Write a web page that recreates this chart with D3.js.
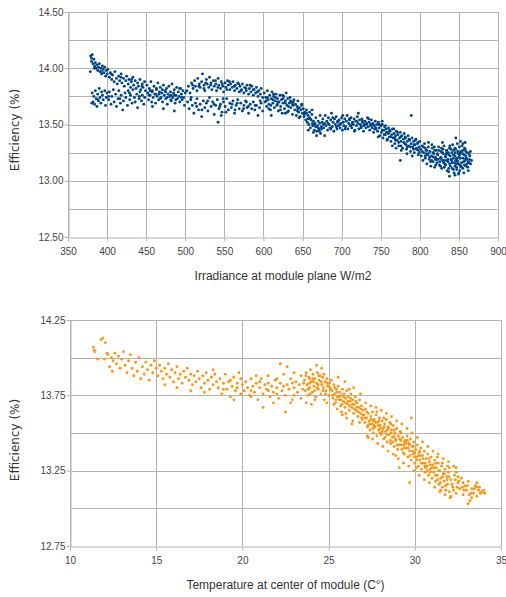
<!DOCTYPE html>
<html>
<head>
<meta charset="utf-8">
<script src="https://cdn.jsdelivr.net/npm/d3@7"></script>
<style>
  body { margin: 0; background: #fff; }
  svg { display: block; }
</style>
</head>
<body>
<div id="plot"></div>
<script>
// irradiance (W/m2) vs efficiency (%)
const irradiancePoints = [
  [379,14.11],[380,14.09],[381,14.12],[380,14.06],[382,14.04],[383,14.08],[384,14.02],[385,14.05],[386,14.00],[387,14.03],[388,13.98],[389,14.01],[390,14.04],[391,13.97],[392,14.00],[393,13.95],[394,14.02],[395,13.99],[396,13.96],[397,14.01],[398,13.93],[399,13.98],[400,13.95],
  [381,13.78],[382,13.70],[383,13.75],[384,13.68],[385,13.80],[386,13.73],[387,13.66],[388,13.77],[389,13.71],[390,13.82],[391,13.74],[392,13.69],[393,13.79],[394,13.76],[395,13.72],[397,13.80],[398,13.67],[399,13.74],[400,13.78],
  [401,13.99],[403,13.92],[404,13.96],[406,13.90],[407,13.94],[409,13.88],[410,13.97],[412,13.91],[413,13.86],[415,13.93],[416,13.89],[418,13.95],[419,13.87],[421,13.91],[422,13.84],[424,13.89],[425,13.93],[427,13.86],[428,13.90],[430,13.83],[431,13.88],[433,13.92],[434,13.85],[436,13.89],[437,13.82],[439,13.87],[440,13.84],[442,13.90],[443,13.81],[445,13.86],[446,13.83],[448,13.88],[449,13.80],
  [402,13.72],[403,13.79],[405,13.68],[406,13.75],[408,13.81],[409,13.70],[411,13.77],[412,13.66],[414,13.73],[415,13.80],[417,13.69],[418,13.76],[420,13.63],[421,13.71],[423,13.78],[424,13.74],[426,13.67],[427,13.80],[429,13.72],[430,13.76],[432,13.69],[433,13.81],[435,13.74],[436,13.70],[438,13.77],[439,13.65],[441,13.73],[442,13.79],[444,13.71],[445,13.76],[447,13.68],[448,13.74],
  [451,13.85],[452,13.78],[453,13.72],[454,13.82],[455,13.76],[456,13.88],[457,13.70],[458,13.80],[459,13.74],[460,13.84],[461,13.77],[462,13.69],[463,13.81],[464,13.75],[465,13.87],[466,13.72],[467,13.79],[468,13.83],[469,13.74],[470,13.78],[471,13.70],[472,13.85],[473,13.76],[474,13.80],[475,13.73],[476,13.82],[477,13.68],[478,13.77],[479,13.84],[480,13.75],[481,13.79],[482,13.71],[483,13.86],[484,13.74],[485,13.78],[486,13.81],[487,13.69],[488,13.76],[489,13.83],[490,13.73],[491,13.79],[492,13.75],[493,13.70],[494,13.82],[495,13.77],[496,13.72],[497,13.80],[498,13.74],[499,13.67],[500,13.78],
  [455,13.80],[462,13.77],[468,13.73],[475,13.79],[482,13.76],[488,13.72],[495,13.74],[458,13.66],[472,13.64],[486,13.62],
  [502,13.80],[504,13.84],[506,13.78],[508,13.87],[510,13.82],[512,13.89],[513,13.84],[515,13.80],[516,13.91],[518,13.86],[519,13.83],[521,13.88],[522,13.95],[524,13.85],[525,13.80],[527,13.90],[528,13.86],[530,13.83],[531,13.92],[533,13.87],[534,13.81],[536,13.89],[537,13.84],[539,13.86],[540,13.80],[542,13.91],[543,13.85],[545,13.82],[546,13.88],[548,13.84],[549,13.79],[551,13.87],[552,13.83],[554,13.89],[555,13.85],[557,13.81],[558,13.86],[560,13.83],[561,13.88],[563,13.80],[564,13.85],[566,13.82],[567,13.87],[569,13.79],[570,13.84],[572,13.81],[573,13.86],[575,13.78],[576,13.83],[578,13.80],[579,13.85],[581,13.77],[582,13.82],[584,13.79],[585,13.84],[587,13.76],[588,13.81],[590,13.78],[591,13.83],[593,13.75],[594,13.80],[596,13.77],[597,13.82],[599,13.74],
  [503,13.70],[505,13.64],[507,13.72],[509,13.67],[511,13.60],[513,13.69],[515,13.73],[517,13.63],[519,13.68],[521,13.57],[523,13.71],[525,13.65],[527,13.69],[529,13.62],[531,13.74],[533,13.66],[535,13.70],[537,13.59],[539,13.67],[541,13.72],[543,13.64],[545,13.68],[547,13.61],[549,13.70],[551,13.66],[553,13.73],[555,13.63],[557,13.69],[559,13.65],[561,13.71],[563,13.60],[565,13.67],[567,13.72],[569,13.64],[571,13.69],[573,13.62],[575,13.67],[577,13.71],[579,13.65],[581,13.60],[583,13.68],[585,13.64],[587,13.70],[589,13.63],[591,13.67],[593,13.58],[595,13.65],[597,13.69],[599,13.62],[542,13.52],[546,13.58],
  [601,13.78],[602,13.70],[603,13.74],[604,13.66],[605,13.80],[606,13.72],[607,13.68],[608,13.76],[609,13.63],[610,13.73],[611,13.79],[612,13.69],[613,13.75],[614,13.65],[615,13.71],[616,13.77],[617,13.67],[618,13.73],[619,13.62],[620,13.70],[621,13.76],[622,13.66],[623,13.72],[624,13.60],[625,13.69],[626,13.75],[627,13.64],[628,13.71],[629,13.78],[630,13.67],[631,13.73],[632,13.62],[633,13.69],[634,13.74],[635,13.65],[636,13.70],[637,13.59],[638,13.67],[639,13.72],[640,13.63],[641,13.68],[642,13.58],[643,13.66],[644,13.71],[645,13.61],[646,13.65],[647,13.57],[648,13.63],[649,13.68],[650,13.60],
  [605,13.74],[612,13.72],[618,13.68],[625,13.73],[632,13.66],[638,13.70],[644,13.64],[610,13.58],[628,13.60],
  [651,13.64],[652,13.57],[653,13.61],[654,13.54],[655,13.60],[656,13.52],[657,13.58],[658,13.50],[659,13.56],[660,13.47],[661,13.54],[662,13.59],[663,13.49],[664,13.53],[665,13.45],[666,13.51],[667,13.56],[668,13.44],[669,13.49],[670,13.53],[671,13.46],[672,13.51],[673,13.42],[674,13.48],[675,13.52],
  [655,13.63],[660,13.55],[665,13.50],[670,13.47],[668,13.40],
  [676,13.55],[677,13.47],[678,13.51],[679,13.58],[680,13.49],[681,13.53],[682,13.45],[683,13.56],[684,13.50],[685,13.47],[686,13.54],[687,13.60],[688,13.48],[689,13.52],[690,13.44],[691,13.55],[692,13.50],[693,13.57],[694,13.46],[695,13.52],[696,13.49],[697,13.54],[698,13.47],[699,13.51],[700,13.56],[701,13.45],[702,13.52],[703,13.49],[704,13.55],[705,13.48],[706,13.53],[707,13.58],[708,13.46],[709,13.51],[710,13.54],[711,13.49],[712,13.56],[713,13.47],[714,13.52],[715,13.50],[716,13.55],[717,13.45],[718,13.53],[719,13.49],[720,13.57],[721,13.51],[722,13.46],[723,13.54],[724,13.50],[725,13.48],[726,13.55],[727,13.52],[728,13.44],[729,13.50],[730,13.53],[731,13.47],[732,13.51],[733,13.56],[734,13.48],[735,13.52],[736,13.45],[737,13.50],[738,13.54],[739,13.47],[740,13.51],[741,13.43],[742,13.49],[743,13.53],[744,13.46],[745,13.50],
  [746,13.44],[747,13.52],[748,13.47],[749,13.40],[750,13.49],[751,13.43],[752,13.50],[753,13.38],[754,13.45],[755,13.48],[756,13.41],[757,13.46],[758,13.36],[759,13.43],[760,13.47],[761,13.39],[762,13.44],[763,13.35],[764,13.41],[765,13.46],[766,13.38],[767,13.42],[768,13.33],[769,13.40],[770,13.44],[771,13.36],[772,13.41],[773,13.31],[774,13.38],[775,13.43],[776,13.35],[777,13.40],[778,13.29],[779,13.37],[780,13.42],[781,13.33],[782,13.38],[783,13.28],[784,13.35],[785,13.40],[786,13.31],[787,13.36],[788,13.26],[789,13.33],[790,13.38],[791,13.30],[792,13.35],[793,13.25],[794,13.32],[795,13.37],[796,13.28],[797,13.33],[798,13.23],[799,13.30],[800,13.35],
  [752,13.45],[760,13.42],[768,13.38],[776,13.31],[784,13.30],[792,13.28],[798,13.27],[775,13.18],[789,13.58],
  [801,13.28],[802,13.22],[803,13.31],[804,13.18],[805,13.25],[806,13.33],[807,13.20],[808,13.27],[809,13.15],[810,13.23],[811,13.30],[812,13.19],[813,13.26],[814,13.13],[815,13.22],[816,13.29],[817,13.17],[818,13.24],[819,13.12],[820,13.21],[821,13.27],[822,13.16],[823,13.23],[824,13.30],[825,13.14],[826,13.20],[827,13.26],[828,13.11],[829,13.18],[830,13.24],[831,13.31],[832,13.15],[833,13.21],[834,13.27],[835,13.09],[836,13.17],[837,13.23],[838,13.29],[839,13.13],[840,13.19],[841,13.25],[842,13.32],[843,13.10],[844,13.16],[845,13.22],[846,13.28],[847,13.12],[848,13.18],[849,13.24],[850,13.07],[851,13.14],[852,13.20],[853,13.26],[854,13.31],[855,13.11],[856,13.17],[857,13.23],[858,13.28],[859,13.13],[860,13.19],[861,13.25],[862,13.09],[863,13.16],[864,13.22],[865,13.15],
  [803,13.26],[807,13.29],[811,13.24],[815,13.18],[819,13.27],[823,13.19],[827,13.21],[831,13.18],[835,13.25],[839,13.22],[843,13.27],[847,13.20],[851,13.23],[855,13.27],[859,13.22],[833,13.14],[837,13.11],[841,13.16],[845,13.13],[849,13.15],[853,13.12],[857,13.14],[845,13.05],[838,13.04],[829,13.34],[848,13.33],[852,13.35],[846,13.38],[858,13.34]
];

// second pass of readings, off the regular grid, filling the dense parts
const irradianceExtra = [
  [812.5,13.21],[836.2,13.19],[848.7,13.26],[820.3,13.14],[857.9,13.18],[843.1,13.23],[829.6,13.28],[861.4,13.12],[816.8,13.25],[851.2,13.09],[838.4,13.31],[825.7,13.17],[846.3,13.15],[833.9,13.24],[855.6,13.20],[809.2,13.27],[862.8,13.24],[841.5,13.11],[827.1,13.20],[818.6,13.30],[853.4,13.16],[844.9,13.29],[831.3,13.12],[858.7,13.26],[822.5,13.24],[836.8,13.08],[849.9,13.21],[813.7,13.17],[860.2,13.15],[840.6,13.18],[826.4,13.13],[854.8,13.24],[834.5,13.27],[847.2,13.10],[819.8,13.19],[863.5,13.19],[832.7,13.22],[842.8,13.20],[850.6,13.30],[828.9,13.25],[856.3,13.07],[838.1,13.15],[815.4,13.32],[845.7,13.18],[852.9,13.13],[824.2,13.27],[859.6,13.20],[836.5,13.25],[848.1,13.17],[830.4,13.16],[843.8,13.07],[857.2,13.29],[821.6,13.19],[839.7,13.28],[851.8,13.25],[834.1,13.18],[861.9,13.17],[845.3,13.25],[827.8,13.29],[817.3,13.21],[808.4,13.24],[804.6,13.30],[806.9,13.22],[811.1,13.34],[855.1,13.33],[849.4,13.06],[866.2,13.18],[864.7,13.26],
  [743.5,13.47],[757.2,13.43],[768.8,13.36],[782.4,13.32],[795.6,13.29],[751.9,13.53],[763.3,13.39],[775.7,13.39],[788.1,13.30],[746.8,13.39],[761.5,13.45],[772.9,13.34],[786.3,13.37],[799.2,13.25],[754.4,13.41],[766.7,13.46],[779.5,13.34],[792.8,13.32],[748.2,13.50],[771.4,13.43],[783.6,13.24],[797.7,13.34],[758.6,13.37],[790.3,13.22],[764.9,13.31],[776.3,13.27],[756.1,13.49],[781.2,13.39],[794.1,13.36],[769.6,13.29],
  [682.4,13.51],[697.8,13.50],[713.6,13.51],[728.3,13.49],[739.9,13.50],[688.7,13.56],[704.5,13.46],[719.2,13.53],[734.6,13.55],[676.8,13.50],[693.3,13.48],[709.7,13.55],[724.8,13.47],[742.2,13.46],[701.4,13.58],[716.5,13.44],[731.7,13.50],[686.2,13.46],[721.3,13.60],[737.6,13.49],[694.9,13.53],[711.8,13.49],[726.6,13.53],
  [643.4,13.62],[656.8,13.55],[648.9,13.67],[662.5,13.51],[671.6,13.44],[652.3,13.59],[666.7,13.48],[659.1,13.61],[645.6,13.56],[674.2,13.46],[663.9,13.43],[662.2,13.63],[672.4,13.58],[678.3,13.40],[657.4,13.45],
  [603.6,13.71],[615.2,13.74],[627.8,13.69],[609.4,13.67],[621.7,13.63],[634.3,13.71],[612.9,13.77],[624.5,13.76],[637.1,13.68],[606.8,13.64],[618.3,13.70],[630.6,13.61],
  [517.5,13.84],[532.4,13.85],[547.3,13.86],[562.8,13.84],[577.6,13.82],[592.2,13.79],[526.1,13.87],[541.7,13.83],[556.4,13.88],[571.3,13.80],[586.9,13.81],[509.3,13.85],[523.8,13.82],[538.6,13.89],[553.2,13.81],[568.5,13.86],[583.1,13.85],
  [514.6,13.66],[528.7,13.71],[544.2,13.66],[559.8,13.68],[574.5,13.64],[589.3,13.67],[521.3,13.63],[536.8,13.68],[551.9,13.61],[566.4,13.69],[580.7,13.66],[595.8,13.71],[507.5,13.74],[548.3,13.73],[563.6,13.63],[578.2,13.70],
  [383.5,14.00],[392.6,13.97],[405.3,13.95],[417.8,13.92],[431.4,13.90],[444.7,13.84],[388.2,13.72],[401.9,13.75],[416.4,13.73],[428.6,13.78],[441.3,13.75],[457.6,13.79],[466.4,13.77],[476.9,13.74],[486.2,13.76],[492.8,13.82],[463.1,13.82],[481.5,13.72],[470.6,13.81],[453.8,13.76],[378.5,13.97],[380.5,13.69]
];

// module temperature (C) vs efficiency (%)
const temperaturePoints = [
  [11.35,14.07],[11.40,14.05],[11.45,14.04],[11.80,14.12],[11.90,14.13],[12.05,14.10],[11.60,13.99],[12.20,14.02],[12.40,14.00],[12.50,13.98],[12.00,13.99],[12.30,13.94],[12.45,13.91],[12.15,14.03],
  [12.6,14.03],[12.7,13.96],[12.8,14.01],[12.9,13.93],[13.0,13.99],[13.1,14.04],[13.2,13.95],[13.3,13.90],[13.4,13.98],[13.5,14.02],[13.6,13.93],[13.7,13.88],[13.8,13.97],[13.9,13.91],[14.0,14.00],[14.1,13.86],[14.2,13.94],[14.3,13.89],[14.4,13.97],[14.5,13.92],[14.6,13.85],[14.7,13.95],[14.8,13.90],[14.9,13.98],[15.0,13.93],
  [15.1,13.88],[15.2,13.95],[15.3,13.91],[15.4,13.86],[15.5,13.93],[15.6,13.89],[15.7,13.96],[15.8,13.87],[15.9,13.92],[16.0,13.84],[16.1,13.90],[16.2,13.94],[16.3,13.86],[16.4,13.89],[16.5,13.83],[16.6,13.91],[16.7,13.87],[16.8,13.93],[16.9,13.85],[17.0,13.89],[17.1,13.82],[17.2,13.88],[17.3,13.84],[17.4,13.91],[17.5,13.86],[17.6,13.80],[17.7,13.88],[17.8,13.83],[17.9,13.90],[18.0,13.85],[18.1,13.79],[18.2,13.87],[18.3,13.82],[18.4,13.89],[18.5,13.84],
  [15.5,13.82],[16.2,13.80],[17.0,13.78],[17.8,13.77],[18.3,13.92],
  [18.6,13.80],[18.7,13.86],[18.8,13.76],[18.9,13.83],[19.0,13.89],[19.1,13.79],[19.2,13.84],[19.3,13.74],[19.4,13.81],[19.5,13.87],[19.6,13.78],[19.7,13.83],[19.8,13.90],[19.9,13.76],[20.0,13.82],[18.9,13.79],[19.3,13.85],[19.7,13.80],[19.9,13.86],[19.5,13.72],
  [20.1,13.78],[20.2,13.84],[20.3,13.80],[20.4,13.75],[20.5,13.86],[20.6,13.81],[20.7,13.77],[20.8,13.83],[20.9,13.72],[21.0,13.80],[21.1,13.86],[21.2,13.76],[21.3,13.82],[21.4,13.79],[21.5,13.88],[21.6,13.74],[21.7,13.81],[21.8,13.77],[21.9,13.85],[22.0,13.80],[22.1,13.73],[22.2,13.83],[22.3,13.78],[22.4,13.89],[22.5,13.75],[22.6,13.82],[22.7,13.79],[22.8,13.86],[22.9,13.72],[23.0,13.80],[23.1,13.84],[23.2,13.77],[23.3,13.82],[23.4,13.88],[23.5,13.79],
  [20.5,13.78],[20.5,13.74],[21.2,13.67],[21.5,13.83],[21.5,13.78],[22.0,13.76],[22.0,13.86],[22.2,13.96],[22.5,13.64],[22.6,13.94],[22.8,13.70],[23.0,13.90],[23.0,13.75],[23.4,13.73],[21.8,13.70],[20.8,13.88],[21.0,13.84],[22.4,13.81],[22.9,13.83],
  [23.6,13.85],[23.65,13.78],[23.7,13.90],[23.75,13.82],[23.8,13.75],[23.85,13.87],[23.9,13.80],[23.95,13.92],[24.0,13.84],[24.05,13.77],[24.1,13.89],[24.15,13.81],[24.2,13.86],[24.25,13.74],[24.3,13.83],[24.35,13.90],[24.4,13.79],[24.45,13.85],[24.5,13.88],[24.55,13.76],[24.6,13.82],[24.65,13.87],[24.7,13.80],[24.75,13.72],[24.8,13.84],[24.85,13.78],[24.9,13.86],[24.95,13.81],[25.0,13.75],[25.05,13.83],[25.1,13.79],[25.15,13.85],[23.7,13.70],[24.0,13.69],[24.3,13.95],[24.6,13.93],[24.2,13.72],[24.9,13.70],[23.9,13.86],[24.4,13.82],
  [25.2,13.78],[25.25,13.73],[25.3,13.82],[25.35,13.76],[25.4,13.70],[25.45,13.79],[25.5,13.74],[25.55,13.81],[25.6,13.72],[25.65,13.77],[25.7,13.68],[25.75,13.75],[25.8,13.79],[25.85,13.71],[25.9,13.76],[25.95,13.67],[26.0,13.73],[26.05,13.78],[26.1,13.69],[26.15,13.74],[26.2,13.65],[26.25,13.71],[26.3,13.76],[26.35,13.67],[26.4,13.72],[26.45,13.63],[26.5,13.69],[26.55,13.74],[26.6,13.65],[26.65,13.70],[26.7,13.61],[26.75,13.67],[26.8,13.72],[26.85,13.63],[26.9,13.68],[26.95,13.59],[27.0,13.65],[25.5,13.66],[26.0,13.63],[26.4,13.58],[25.3,13.69],[26.8,13.57],[25.8,13.62],[26.2,13.79],
  [27.05,13.62],[27.1,13.57],[27.15,13.66],[27.2,13.60],[27.25,13.54],[27.3,13.63],[27.35,13.58],[27.4,13.52],[27.45,13.61],[27.5,13.56],[27.55,13.64],[27.6,13.50],[27.65,13.59],[27.7,13.54],[27.75,13.62],[27.8,13.48],[27.85,13.57],[27.9,13.52],[27.95,13.60],[28.0,13.55],[28.05,13.49],[28.1,13.58],[28.15,13.53],[28.2,13.46],[28.25,13.56],[28.3,13.51],[28.35,13.59],[28.4,13.44],[28.45,13.54],[28.5,13.49],[28.55,13.57],[28.6,13.43],[28.65,13.52],[28.7,13.47],[28.75,13.55],[28.8,13.41],[28.85,13.50],[28.9,13.45],[28.95,13.53],[29.0,13.39],[27.3,13.47],[27.8,13.64],[28.2,13.60],[28.6,13.56],[28.9,13.35],[27.6,13.58],[28.0,13.50],[28.4,13.52],[28.8,13.48],
  [29.05,13.48],[29.1,13.42],[29.15,13.51],[29.2,13.45],[29.25,13.39],[29.3,13.47],[29.35,13.42],[29.4,13.36],[29.45,13.45],[29.5,13.40],[29.55,13.48],[29.6,13.34],[29.65,13.43],[29.7,13.38],[29.75,13.46],[29.8,13.32],[29.85,13.41],[29.9,13.36],[29.95,13.44],[30.0,13.30],[30.05,13.39],[30.1,13.34],[30.15,13.42],[30.2,13.28],[30.25,13.37],[30.3,13.32],[30.35,13.40],[30.4,13.26],[30.45,13.35],[30.5,13.30],[30.55,13.38],[30.6,13.24],[30.65,13.33],[30.7,13.28],[30.75,13.36],[30.8,13.22],[30.85,13.31],[30.9,13.26],[30.95,13.34],[31.0,13.20],[29.8,13.60],[29.7,13.17],[29.1,13.27],[29.4,13.44],[29.7,13.42],[30.0,13.37],[30.3,13.35],[30.6,13.30],[30.9,13.29],[29.2,13.50],[30.1,13.27],
  [31.05,13.29],[31.1,13.24],[31.15,13.32],[31.2,13.18],[31.25,13.27],[31.3,13.22],[31.35,13.30],[31.4,13.16],[31.45,13.25],[31.5,13.20],[31.55,13.28],[31.6,13.14],[31.65,13.23],[31.7,13.18],[31.75,13.26],[31.8,13.12],[31.85,13.21],[31.9,13.16],[31.95,13.24],[32.0,13.11],[32.1,13.19],[32.2,13.14],[32.3,13.22],[32.4,13.10],[32.5,13.17],[32.6,13.13],[32.7,13.20],[32.8,13.09],[32.9,13.15],[33.0,13.12],[33.1,13.18],[33.2,13.05],[33.3,13.13],[33.4,13.10],[33.5,13.15],[33.6,13.08],[33.7,13.12],[33.8,13.10],[33.9,13.11],[34.0,13.12],
  [31.3,13.34],[31.6,13.30],[32.0,13.27],[32.4,13.24],[31.5,13.12],[32.1,13.08],[32.8,13.17],[33.3,13.07],[31.9,13.28],[32.5,13.21],[33.6,13.14],[31.2,13.22],[32.4,13.27],[33.6,13.17],[34.05,13.10],[33.1,13.03]
];

const temperatureExtra = [
  [23.55,13.83],[23.82,13.79],[24.08,13.86],[24.33,13.80],[24.58,13.84],[24.82,13.76],[25.08,13.80],[23.68,13.88],[23.93,13.76],[24.18,13.78],[24.42,13.88],[24.68,13.78],[24.93,13.83],[24.12,13.84],[24.72,13.89],[23.88,13.83],
  [25.22,13.75],[25.48,13.77],[25.72,13.72],[25.98,13.70],[26.22,13.68],[26.48,13.66],[26.72,13.64],[26.98,13.62],[25.35,13.80],[25.62,13.74],[25.88,13.74],[26.12,13.71],[26.38,13.69],[26.62,13.67],[26.88,13.66],[25.42,13.72],[25.78,13.69],[26.28,13.73],[26.58,13.71],[26.92,13.60],
  [27.12,13.60],[27.38,13.56],[27.62,13.55],[27.88,13.55],[28.12,13.51],[28.38,13.49],[28.62,13.50],[28.88,13.46],[27.22,13.64],[27.48,13.59],[27.72,13.57],[27.98,13.53],[28.22,13.54],[28.48,13.53],[28.72,13.44],[28.98,13.42],[27.28,13.55],[27.58,13.53],[27.92,13.58],[28.28,13.47],[28.58,13.45],[28.82,13.52],
  [29.12,13.46],[29.38,13.40],[29.62,13.40],[29.88,13.38],[30.12,13.32],[30.38,13.30],[30.62,13.27],[30.88,13.24],[29.22,13.42],[29.48,13.43],[29.72,13.35],[29.98,13.34],[30.22,13.35],[30.48,13.33],[30.72,13.25],[30.98,13.27],[29.32,13.37],[29.58,13.45],[29.92,13.41],[30.28,13.38],[30.58,13.28],[30.82,13.33],
  [31.12,13.27],[31.38,13.25],[31.62,13.21],[31.88,13.19],[32.15,13.16],[32.45,13.14],[32.75,13.14],[33.05,13.15],[31.22,13.30],[31.48,13.17],[31.72,13.23],[31.98,13.21],[32.25,13.12],[32.55,13.18],[32.85,13.12],[33.25,13.10],[33.45,13.13],[33.75,13.14],[31.32,13.19],[31.78,13.15],[32.35,13.19],[33.15,13.09]
];

// readings along the upper and lower edges of the falling band
const temperatureEdges = [
  [25.55,13.87],[25.95,13.84],[26.45,13.80],[26.85,13.76],
  [27.15,13.70],[27.45,13.68],[27.75,13.67],[28.05,13.65],[28.35,13.63],[28.65,13.61],[28.95,13.58],[29.25,13.56],[29.55,13.53],[29.85,13.50],[30.15,13.47],[30.45,13.44],[30.75,13.41],[31.05,13.38],[31.35,13.36],[31.65,13.33],[31.95,13.31],[32.25,13.28],
  [27.25,13.48],[27.55,13.46],[27.85,13.43],[28.15,13.41],[28.45,13.38],[28.75,13.36],[29.05,13.33],[29.35,13.30],[29.65,13.28],[29.95,13.25],[30.25,13.22],[30.55,13.19],[30.85,13.17],[31.15,13.14],[31.45,13.11],[31.75,13.09],[32.05,13.07],[26.35,13.56],[26.05,13.60],[25.75,13.64]
];

const irrTicks = [350, 400, 450, 500, 550, 600, 650, 700, 750, 800, 850, 900];
const irrEffTicks = [12.5, 13.0, 13.5, 14.0, 14.5];
const irrEffGrid = [12.75, 13.0, 13.25, 13.5, 13.75, 14.0, 14.25, 14.5];
const tempTicks = [10, 15, 20, 25, 30, 35];
const tempEffTicks = [12.75, 13.25, 13.75, 14.25];
const tempEffGrid = [13.0, 13.25, 13.5, 13.75, 14.0, 14.25];

const W = 506, H = 597;
const gridColor = "#b3b3b3";
const labelColor = "#444";

const svg = d3.select("#plot").append("svg")
    .attr("width", W)
    .attr("height", H);

const draw_chart = function (opt) {
    const x = d3.scaleLinear().domain(opt.xDomain).range([opt.left, opt.right]);
    const y = d3.scaleLinear().domain(opt.yDomain).range([opt.bottom, opt.top]);

    const g = svg.append("g");

    // horizontal grid
    g.append("g")
        .selectAll("line")
        .data(opt.yGrid)
        .join("line")
        .attr("x1", opt.left).attr("x2", opt.right)
        .attr("y1", d => Math.round(y(d)) + 0.5).attr("y2", d => Math.round(y(d)) + 0.5)
        .attr("stroke", gridColor);

    // vertical grid
    g.append("g")
        .selectAll("line")
        .data(opt.xTicks)
        .join("line")
        .attr("x1", d => Math.round(x(d)) + 0.5).attr("x2", d => Math.round(x(d)) + 0.5)
        .attr("y1", opt.top).attr("y2", opt.bottom)
        .attr("stroke", gridColor);

    const xAxis = g.append("g")
        .attr("transform", `translate(0,${Math.round(y(opt.yDomain[0])) + 0.5})`)
        .call(d3.axisBottom(x).tickValues(opt.xTicks).tickFormat(d3.format("d")).tickSizeInner(4).tickSizeOuter(0).offset(0.5));
    const yAxis = g.append("g")
        .attr("transform", `translate(${Math.round(x(opt.xDomain[0])) + 0.5},0)`)
        .call(d3.axisLeft(y).tickValues(opt.yTicks).tickFormat(d3.format(".2f")).tickSizeInner(4).tickSizeOuter(0).offset(0.5));

    [xAxis, yAxis].forEach(a => {
        a.selectAll("path, line").attr("stroke", gridColor);
        a.selectAll("text")
            .attr("fill", labelColor)
            .attr("font-family", "Liberation Sans, Arial, sans-serif")
            .attr("font-size", 10);
    });
    xAxis.selectAll("text").attr("dy", "1.05em");
    yAxis.selectAll("text").attr("x", -5);

    g.append("g")
        .attr("fill", opt.color)
        .selectAll("circle")
        .data(opt.points)
        .join("circle")
        .attr("cx", d => x(d[0]))
        .attr("cy", d => y(d[1]))
        .attr("r", 1.45);

    g.append("text")
        .attr("x", (opt.left + opt.right) / 2)
        .attr("y", opt.xTitleY)
        .attr("text-anchor", "middle")
        .attr("fill", "#333")
        .attr("font-family", "Liberation Sans, Arial, sans-serif")
        .attr("font-size", 12)
        .text(opt.xTitle);

    g.append("text")
        .attr("transform", `translate(${opt.yTitleX},${opt.yTitleY}) rotate(-90)`)
        .attr("text-anchor", "middle")
        .attr("fill", "#333")
        .attr("font-family", "DejaVu Sans, sans-serif")
        .attr("font-size", 12)
        .text("Efficiency (%)");
}

draw_chart({
    points: irradiancePoints.concat(irradianceExtra),
    xDomain: [350, 900], yDomain: [12.5, 14.5],
    left: 68, right: 498, top: 12, bottom: 237,
    xTicks: irrTicks, yTicks: irrEffTicks, yGrid: irrEffGrid,
    color: "#004586",
    xTitle: "Irradiance at module plane W/m2", xTitleY: 280,
    yTitleX: 19, yTitleY: 130
});

draw_chart({
    points: temperaturePoints.concat(temperatureExtra, temperatureEdges),
    xDomain: [10, 35], yDomain: [12.75, 14.25],
    left: 70, right: 501, top: 320, bottom: 546,
    xTicks: tempTicks, yTicks: tempEffTicks, yGrid: tempEffGrid,
    color: "#ff950e",
    xTitle: "Temperature at center of module (C°)", xTitleY: 589,
    yTitleX: 19, yTitleY: 440
});
</script>
</body>
</html>
